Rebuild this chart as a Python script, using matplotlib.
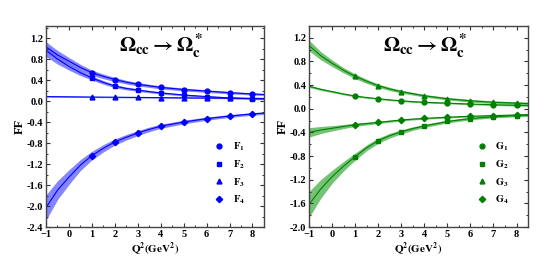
import matplotlib
matplotlib.use('Agg')
import matplotlib.pyplot as plt
import numpy as np
from matplotlib.ticker import MultipleLocator

plt.rcParams['font.family'] = 'Liberation Serif'
plt.rcParams['font.weight'] = 'bold'
plt.rcParams['mathtext.fontset'] = 'stix'

# curve grid (Q^2 in GeV^2)
q_curve = [-1, -0.5, 0, 0.5, 1, 1.5, 2, 2.5, 3, 3.5, 4, 5, 6, 7, 8, 8.5]
# lattice-like points
q_pts = [1, 2, 3, 4, 5, 6, 7, 8]

# left panel: F_i
F1_curve = [1.03, 0.88, 0.76, 0.64, 0.54, 0.47, 0.41, 0.36, 0.32, 0.29, 0.26, 0.22, 0.19, 0.16, 0.135, 0.125]
F1_err = [0.10, 0.085, 0.07, 0.06, 0.05, 0.045, 0.04, 0.035, 0.033, 0.03, 0.03, 0.027, 0.025, 0.022, 0.02, 0.02]
F1_pts = [0.54, 0.41, 0.32, 0.26, 0.22, 0.19, 0.16, 0.135]

F2_curve = [0.97, 0.80, 0.66, 0.54, 0.44, 0.355, 0.285, 0.24, 0.21, 0.18, 0.155, 0.115, 0.085, 0.06, 0.045, 0.04]
F2_err = [0.12, 0.095, 0.07, 0.055, 0.04, 0.035, 0.03, 0.027, 0.025, 0.022, 0.02, 0.018, 0.016, 0.015, 0.015, 0.015]
F2_pts = [0.44, 0.285, 0.21, 0.155, 0.115, 0.085, 0.06, 0.045]

F3_curve = [0.085, 0.083, 0.081, 0.079, 0.077, 0.075, 0.073, 0.071, 0.069, 0.067, 0.065, 0.061, 0.058, 0.055, 0.052, 0.05]
F3_err = [0.01] * 16
F3_pts = [0.077, 0.073, 0.069, 0.065, 0.061, 0.058, 0.055, 0.052]

F4_curve = [-2.03, -1.70, -1.45, -1.22, -1.04, -0.90, -0.78, -0.69, -0.61, -0.54, -0.48, -0.40, -0.335, -0.285, -0.245, -0.23]
F4_err = [0.24, 0.18, 0.14, 0.105, 0.083, 0.07, 0.06, 0.053, 0.048, 0.044, 0.04, 0.035, 0.03, 0.027, 0.025, 0.024]
F4_pts = [-1.04, -0.78, -0.61, -0.48, -0.40, -0.335, -0.285, -0.245]

# right panel: G_i
G1_curve = [0.38, 0.33, 0.29, 0.25, 0.215, 0.19, 0.17, 0.15, 0.135, 0.12, 0.11, 0.095, 0.08, 0.068, 0.058, 0.055]
G1_err = [0.02, 0.018, 0.016, 0.015, 0.014, 0.013, 0.012, 0.012, 0.012, 0.012, 0.012, 0.012, 0.012, 0.012, 0.012, 0.012]
G1_pts = [0.215, 0.17, 0.135, 0.11, 0.095, 0.08, 0.068, 0.058]

G2_curve = [-1.62, -1.36, -1.15, -0.97, -0.81, -0.66, -0.54, -0.455, -0.39, -0.335, -0.29, -0.215, -0.165, -0.135, -0.115, -0.11]
G2_err = [0.22, 0.16, 0.11, 0.08, 0.06, 0.05, 0.045, 0.04, 0.035, 0.03, 0.027, 0.024, 0.022, 0.02, 0.02, 0.02]
G2_pts = [-0.81, -0.54, -0.39, -0.29, -0.215, -0.165, -0.135, -0.115]

G3_curve = [1.07, 0.90, 0.77, 0.65, 0.55, 0.465, 0.39, 0.335, 0.29, 0.255, 0.22, 0.17, 0.135, 0.11, 0.095, 0.088]
G3_err = [0.09, 0.07, 0.055, 0.045, 0.04, 0.035, 0.03, 0.027, 0.025, 0.023, 0.022, 0.022, 0.022, 0.023, 0.024, 0.025]
G3_pts = [0.55, 0.39, 0.29, 0.22, 0.17, 0.135, 0.11, 0.095]

G4_curve = [-0.40, -0.36, -0.33, -0.30, -0.27, -0.25, -0.23, -0.21, -0.19, -0.175, -0.163, -0.143, -0.127, -0.115, -0.105, -0.10]
G4_err = [0.08, 0.06, 0.045, 0.035, 0.028, 0.024, 0.02, 0.018, 0.016, 0.015, 0.014, 0.013, 0.012, 0.012, 0.012, 0.012]
G4_pts = [-0.27, -0.23, -0.19, -0.163, -0.143, -0.127, -0.115, -0.105]

markers = ['o', 's', '^', 'D']

blue = '#0000ff'
blue_band = '#7070ff'
green = '#008000'
green_band = '#5cb85c'

fig = plt.figure(figsize=(5.56, 2.72), dpi=100)
ax1 = fig.add_axes([0.0827, 0.1654, 0.392, 0.739])
ax2 = fig.add_axes([0.5558, 0.1654, 0.394, 0.739])

left = [(F1_curve, F1_err, F1_pts), (F2_curve, F2_err, F2_pts),
        (F3_curve, F3_err, F3_pts), (F4_curve, F4_err, F4_pts)]
right = [(G1_curve, G1_err, G1_pts), (G2_curve, G2_err, G2_pts),
         (G3_curve, G3_err, G3_pts), (G4_curve, G4_err, G4_pts)]


def draw(ax, series, name, col, band, ylim, ymaj):
    q = np.array(q_curve)
    for i, (c, e, p) in enumerate(series):
        c = np.array(c)
        e = np.array(e)
        ax.fill_between(q, c - e, c + e, color=band, alpha=0.85, lw=0, zorder=1)
        ax.plot(q, c, color=col, lw=0.8, zorder=2)
        ax.plot(q_pts, p, ls='none', marker=markers[i], color=col,
                ms=3.5 if markers[i] != 'D' else 3.2, zorder=3,
                label=r'$\mathrm{%s}_{%d}$' % (name, i + 1))
    ax.set_xlim(-1, 8.5)
    ax.set_ylim(*ylim)
    ax.xaxis.set_major_locator(MultipleLocator(1))
    ax.xaxis.set_minor_locator(MultipleLocator(0.5))
    ax.yaxis.set_major_locator(MultipleLocator(ymaj))
    ax.yaxis.set_minor_locator(MultipleLocator(ymaj / 2))
    ax.yaxis.set_major_formatter(plt.FuncFormatter(lambda v, _: '%.1f' % v if abs(v) > 1e-9 else '0.0'))
    ax.xaxis.set_major_formatter(plt.FuncFormatter(lambda v, _: '%d' % v if v >= 0 else '\u2212%d' % abs(v)))
    ax.tick_params(which='both', direction='in', top=True, right=True, labelsize=7.5, pad=2, color='#333333')
    ax.tick_params(which='major', length=3, width=0.8)
    ax.tick_params(which='minor', length=1.6, width=0.7)
    for s in ax.spines.values():
        s.set_linewidth(1.0)
        s.set_color('#444444')
    for lab in ax.get_xticklabels() + ax.get_yticklabels():
        lab.set_fontweight('bold')
    ax.set_xlabel(r'$\mathbf{Q^2(GeV^2)}$', fontsize=8, labelpad=1)
    ax.set_ylabel('FF', fontsize=9, fontweight='bold', labelpad=1)
    ax.text(0.53, 0.9, r'$\mathbf{\Omega_{cc}\rightarrow\Omega_c^*}$', transform=ax.transAxes,
            ha='center', va='center', fontsize=15)
    ax.legend(loc='lower right', frameon=False, fontsize=7.5, handlelength=1.0,
              handletextpad=0.8, labelspacing=0.5, borderaxespad=1.2,
              bbox_to_anchor=(0.99, 0.02))


draw(ax1, left, 'F', blue, blue_band, (-2.4, 1.43), 0.4)
draw(ax2, right, 'G', green, green_band, (-2.0, 1.4), 0.4)

fig.savefig('out.png', dpi=100)
